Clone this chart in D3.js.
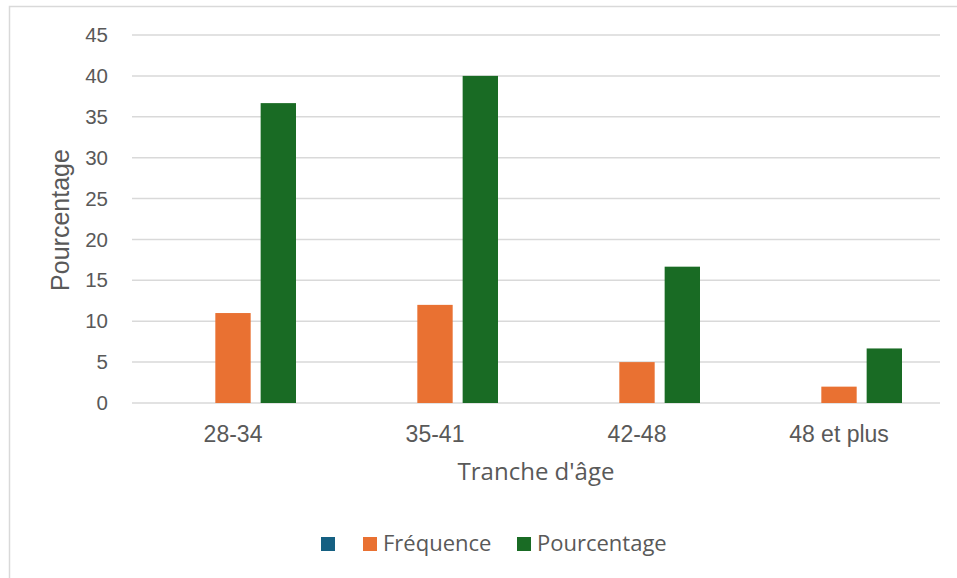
<!DOCTYPE html>
<html>
<head>
<meta charset="utf-8">
<script src="https://cdn.jsdelivr.net/npm/d3@7"></script>
<style>
  body { margin: 0; background: #fff; }
</style>
</head>
<body>
<div id="chart"></div>
<script>
var width = 957;
var height = 578;

// data
var categories = ["28-34", "35-41", "42-48", "48 et plus"];
var seriesNames = ["", "Fréquence", "Pourcentage"];
var seriesColors = ["#156082", "#e97132", "#196b24"];
var blankValues = [null, null, null, null];
var frequenceValues = [11, 12, 5, 2];
var pourcentageValues = [36.67, 40, 16.67, 6.67];
var yTicks = [0, 5, 10, 15, 20, 25, 30, 35, 40, 45];

var margin = {left: 132, right: 17, top: 35, bottom: 175};

var svg = d3.select("#chart")
  .append("svg")
  .attr("width", width)
  .attr("height", height);

// chart border, cropped at right and bottom
svg.append("rect")
  .attr("x", 9.5)
  .attr("y", 6.5)
  .attr("width", width + 10)
  .attr("height", height + 10)
  .attr("fill", "#fff")
  .attr("stroke", "#d9d9d9")
  .attr("stroke-width", 1.5);

var x = d3.scaleBand()
  .domain(categories)
  .range([margin.left, width - margin.right]);

var y = d3.scaleLinear()
  .domain([0, 45])
  .range([403, margin.top]);

var inner = d3.scaleBand()
  .domain([0, 1, 2])
  .range([38, x.bandwidth() - 38])
  .paddingInner(0.22);

// gridlines
svg.append("g")
  .selectAll("line")
  .data(yTicks)
  .enter().append("line")
  .attr("x1", margin.left)
  .attr("x2", width - margin.right)
  .attr("y1", d => y(d))
  .attr("y2", d => y(d))
  .attr("stroke", "#d9d9d9")
  .attr("stroke-width", 1.5);

// y tick labels
var yAxis = svg.append("g")
  .attr("transform", "translate(" + (margin.left - 24) + ",0)")
  .call(d3.axisLeft(y).tickValues(yTicks).tickSize(0).tickPadding(0));
yAxis.select(".domain").remove();
yAxis.selectAll("text")
  .style("font", "20.5px 'Liberation Sans', Arial, sans-serif")
  .attr("fill", "#595959");

// x tick labels
var xAxis = svg.append("g")
  .attr("transform", "translate(0," + 442 + ")")
  .call(d3.axisBottom(x).tickSize(0).tickPadding(0));
xAxis.select(".domain").remove();
xAxis.selectAll("text")
  .attr("dy", 0)
  .style("font", "23px 'Liberation Sans', Arial, sans-serif")
  .attr("fill", "#595959");

// bars
var series = [blankValues, frequenceValues, pourcentageValues];
series.forEach(function(vals, si) {
  svg.append("g")
    .selectAll("rect")
    .data(vals.map((v, i) => ({cat: categories[i], v: v})).filter(d => d.v != null))
    .enter().append("rect")
    .attr("x", d => x(d.cat) + inner(si))
    .attr("width", inner.bandwidth())
    .attr("y", d => y(d.v))
    .attr("height", d => y(0) - y(d.v))
    .attr("fill", seriesColors[si]);
});

// axis titles
svg.append("text")
  .attr("x", (margin.left + width - margin.right) / 2)
  .attr("y", 480)
  .attr("text-anchor", "middle")
  .style("font", "24px 'Open Sans', sans-serif")
  .attr("fill", "#595959")
  .text("Tranche d'âge");

svg.append("text")
  .attr("transform", "translate(69," + 220 + ") rotate(-90)")
  .attr("text-anchor", "middle")
  .style("font", "25px 'Liberation Sans', Arial, sans-serif")
  .attr("fill", "#595959")
  .text("Pourcentage");

// legend
var legendX = [321, 363, 517];
var legend = svg.append("g");
seriesNames.forEach(function(name, i) {
  legend.append("rect")
    .attr("x", legendX[i])
    .attr("y", 537)
    .attr("width", 14)
    .attr("height", 14)
    .attr("fill", seriesColors[i]);
  legend.append("text")
    .attr("x", legendX[i] + 20)
    .attr("y", 551)
    .style("font", "22px 'Open Sans', sans-serif")
    .attr("fill", "#595959")
    .text(name);
});
</script>
</body>
</html>
